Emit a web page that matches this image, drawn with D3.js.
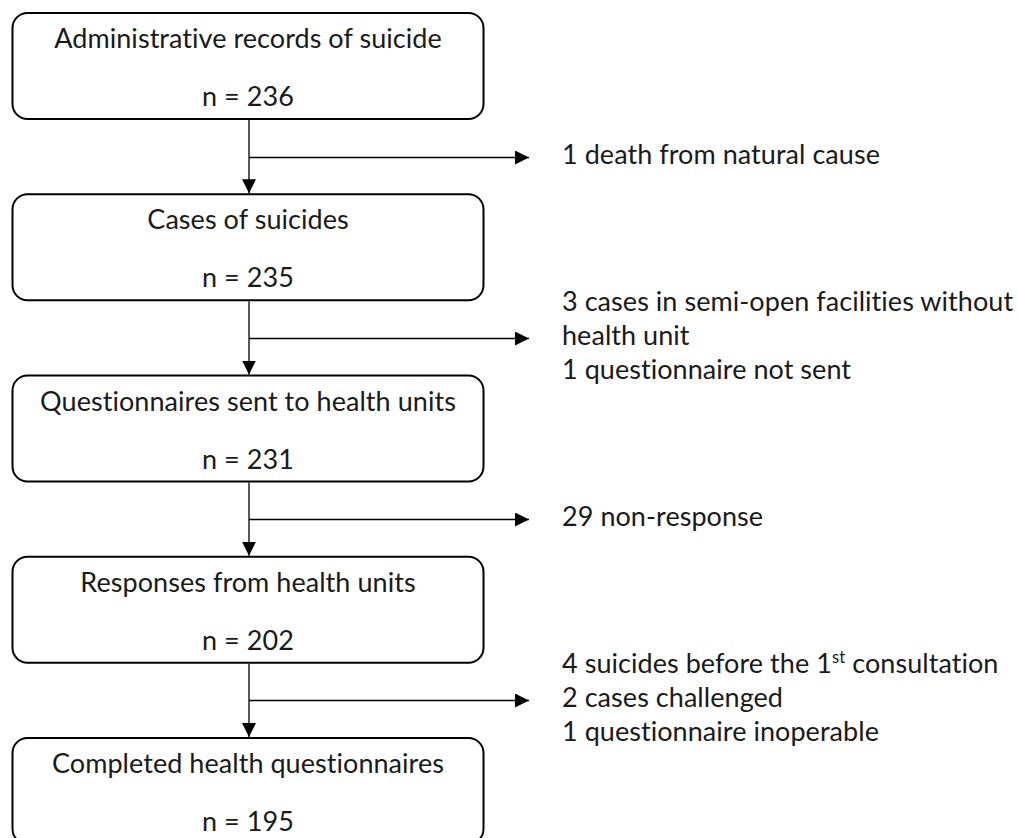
<!DOCTYPE html>
<html>
<head>
<meta charset="utf-8">
<script src="https://cdn.jsdelivr.net/npm/d3@7"></script>
<style>
  html, body { margin: 0; padding: 0; background: #fff; }
  svg { display: block; }
  text { font-variant-ligatures: none; font-feature-settings: "liga" 0, "clig" 0, "dlig" 0; letter-spacing: 0.05px; }
</style>
</head>
<body>
<svg id="chart" width="1018" height="838"></svg>
<script>
// ---- data ----
const stageLabels = [
  "Administrative records of suicide",
  "Cases of suicides",
  "Questionnaires sent to health units",
  "Responses from health units",
  "Completed health questionnaires"
];
const stageCounts = [236, 235, 231, 202, 195];
const exclusion1 = ["1 death from natural cause"];
const exclusion2 = ["3 cases in semi-open facilities without", "health unit", "1 questionnaire not sent"];
const exclusion3 = ["29 non-response"];
const exclusion4 = ["4 suicides before the 1|st| consultation", "2 cases challenged", "1 questionnaire inoperable"];
const exclusions = [exclusion1, exclusion2, exclusion3, exclusion4];

// ---- layout ----
const svg = d3.select("#chart");
const FONT = "Lato, 'Open Sans', sans-serif";
const fontSize = 27;
const boxLeft = 12, boxRight = 483, boxH = 106;
const spineX = 249;
const arrowEnd = 529;
const textX = 562;
const lineGap = 34;

const y = d3.scaleLinear().domain([0, stageLabels.length - 1]).range([13, 738]);

const defs = svg.append("defs");
defs.append("marker")
  .attr("id", "arrow")
  .attr("viewBox", "0 0 14 14")
  .attr("refX", 14).attr("refY", 7)
  .attr("markerWidth", 14).attr("markerHeight", 14)
  .attr("markerUnits", "userSpaceOnUse")
  .attr("orient", "auto")
  .append("path").attr("d", "M0,0 L14,7 L0,14 Z").attr("fill", "#000");

// boxes
const g = svg.append("g");
const boxes = g.selectAll("g.stage").data(stageLabels.map((d, i) => ({ label: d, n: stageCounts[i], i })))
  .join("g").attr("class", "stage");

boxes.append("rect")
  .attr("x", boxLeft + 0.5)
  .attr("y", d => y(d.i))
  .attr("width", boxRight - boxLeft)
  .attr("height", boxH)
  .attr("rx", 15).attr("ry", 15)
  .attr("fill", "#fff")
  .attr("stroke", "#000")
  .attr("stroke-width", 2);

const cx = (boxLeft + boxRight) / 2 + 0.5;
boxes.append("text")
  .attr("x", cx)
  .attr("y", d => y(d.i) + 35)
  .attr("text-anchor", "middle")
  .attr("font-family", FONT)
  .attr("font-size", fontSize)
  .attr("fill", "#1a1a1a")
  .text(d => d.label);

boxes.append("text")
  .attr("x", cx)
  .attr("y", d => y(d.i) + 93)
  .attr("text-anchor", "middle")
  .attr("font-family", FONT)
  .attr("font-size", fontSize)
  .attr("fill", "#1a1a1a")
  .text(d => "n = " + d.n);

// connectors
const links = d3.range(stageLabels.length - 1).map(i => ({
  i,
  y0: y(i) + boxH,
  y1: y(i + 1),
  mid: (y(i) + boxH + y(i + 1)) / 2,
  lines: exclusions[i]
}));

const lg = svg.append("g");
lg.selectAll("line.down").data(links).join("line")
  .attr("class", "down")
  .attr("x1", spineX).attr("x2", spineX)
  .attr("y1", d => d.y0 + 1).attr("y2", d => d.y1 - 1)
  .attr("stroke", "#000").attr("stroke-width", 1.3)
  .attr("marker-end", "url(#arrow)");

lg.selectAll("line.side").data(links).join("line")
  .attr("class", "side")
  .attr("x1", spineX).attr("x2", arrowEnd)
  .attr("y1", d => Math.round(d.mid) + 0.5).attr("y2", d => Math.round(d.mid) + 0.5)
  .attr("stroke", "#000").attr("stroke-width", 1.3)
  .attr("marker-end", "url(#arrow)");

// exclusion texts
const tg = svg.append("g");
links.forEach(l => {
  const n = l.lines.length;
  l.lines.forEach((line, k) => {
    const base = l.mid + (k - (n - 1) / 2) * lineGap + 7;
    const t = tg.append("text")
      .attr("x", textX)
      .attr("y", base)
      .attr("font-family", FONT)
      .attr("font-size", fontSize)
      .attr("fill", "#1a1a1a");
    const parts = line.split("|");
    parts.forEach((p, j) => {
      if (j % 2 === 1) {
        t.append("tspan").attr("font-size", fontSize * 0.62).attr("dy", -10).text(p);
      } else if (j > 0) {
        t.append("tspan").attr("dy", 10).text(p);
      } else {
        t.append("tspan").text(p);
      }
    });
  });
});
</script>
</body>
</html>
